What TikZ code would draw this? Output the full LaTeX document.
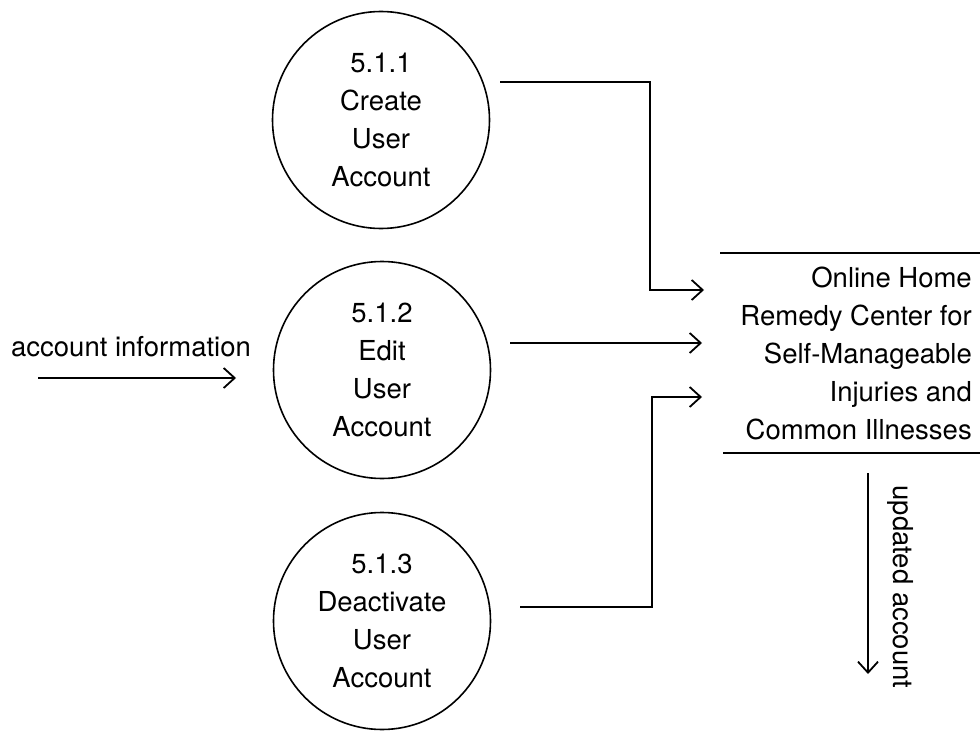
\documentclass[tikz,border=0pt]{standalone}
\usepackage{fontspec}
\setmainfont{TeX Gyre Heros}
\usetikzlibrary{arrows.meta}
\begin{document}
\begin{tikzpicture}[x=1pt,y=-1pt,
  every node/.style={font=\fontsize{27.5}{38}\selectfont},
  process/.style={draw, circle, line width=1.6pt, minimum size=217pt, inner sep=0pt, align=center},
  flow/.style={line width=1.8pt, -{Straight Barb[length=11pt,width=20pt,line width=1.8pt]}},
  bar/.style={line width=1.8pt}]
\useasboundingbox (0,0) rectangle (980,733);
\node[process] (c1) at (381,120) {5.1.1\\Create\\User\\Account};
\node[process] (c2) at (382,370) {5.1.2\\Edit\\User\\Account};
\node[process] (c3) at (382,621) {5.1.3\\Deactivate\\User\\Account};
\node[anchor=east, align=right, inner sep=0pt] (store) at (972,353)
  {Online Home\\Remedy Center for\\Self-Manageable\\Injuries and\\Common Illnesses};
\coordinate (st1) at (720,253); \coordinate (st2) at (980,253);
\coordinate (sb1) at (723,453); \coordinate (sb2) at (980,453);
\draw[bar] (st1) -- (st2);
\draw[bar] (sb1) -- (sb2);
% flows
\coordinate (a1) at (500,82); \coordinate (a1t) at (704,290);
\draw[flow] (a1) -| (650,290) -- (a1t);
\coordinate (a2) at (510,343); \coordinate (a2t) at (702,343);
\draw[flow] (a2) -- (a2t);
\coordinate (a3) at (520,607); \coordinate (a3t) at (702,397);
\draw[flow] (a3) -| (652,397) -- (a3t);
% account information
\node (ailabel) at (131,347) {account information};
\coordinate (ai1) at (38,378); \coordinate (ai2) at (236,378);
\draw[flow] (ai1) -- (ai2);
% updated account
\coordinate (ua1) at (868,473); \coordinate (ua2) at (868,674);
\draw[flow] (ua1) -- (ua2);
\node[rotate=-90] (ualabel) at (901,587) {updated account};
\end{tikzpicture}
\end{document}
